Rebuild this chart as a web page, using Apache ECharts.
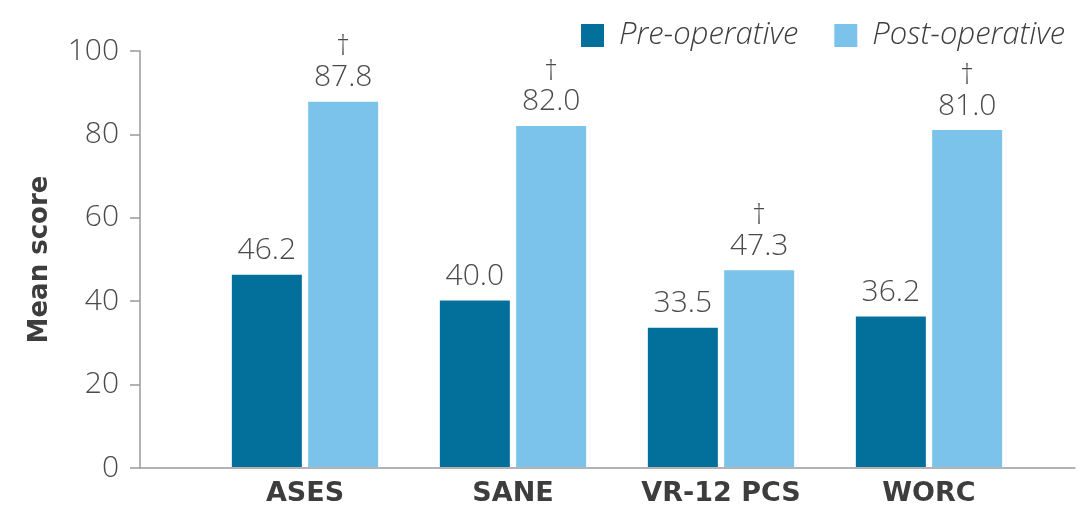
<!DOCTYPE html>
<html>
<head>
<meta charset="utf-8">
<script src="https://cdn.jsdelivr.net/npm/echarts@6/dist/echarts.min.js"></script>
<style>
  html, body { margin: 0; padding: 0; background: #fff; }
  #chart { width: 1084px; height: 507px; }
</style>
</head>
<body>
<div id="chart"></div>
<script>
// Outcome scores before and after surgery
const categories = ['ASES', 'SANE', 'VR-12 PCS', 'WORC'];
const preOperative = [46.2, 40.0, 33.5, 36.2];
const postOperative = [87.8, 82.0, 47.3, 81.0];
const postSignificant = [true, true, true, true];
const yTicks = [0, 20, 40, 60, 80, 100];

const FONT = '"Open Sans", "Noto Sans", sans-serif';
const BOLD_FONT = '"DejaVu Sans", "Open Sans", sans-serif';
const TEXT = '#3d3d3d';
const LIGHT_TEXT = '#4a4a4a';
const AXIS = '#9a9a9a';

const gridTop = 51;
const gridBottom = 39;

const chart = echarts.init(document.getElementById('chart'), null, { renderer: 'canvas' });

chart.setOption({
  animation: false,
  backgroundColor: '#ffffff',
  textStyle: { fontFamily: FONT },
  legend: {
    right: 14,
    top: 15,
    itemWidth: 23,
    itemHeight: 23,
    itemGap: 36,
    icon: 'rect',
    textStyle: {
      fontFamily: FONT,
      fontSize: 31,
      fontStyle: 'italic',
      fontWeight: 300,
      color: TEXT,
      padding: [0, 0, 0, 10]
    },
    data: ['Pre-operative', 'Post-operative']
  },
  grid: [
    // frame grid carrying the visible axes
    { left: 140, right: 9, top: gridTop, bottom: gridBottom },
    // grid holding the bars
    { left: 201, right: 51, top: gridTop, bottom: gridBottom }
  ],
  xAxis: [
    {
      gridIndex: 0,
      type: 'category',
      data: [''],
      axisLine: { show: true, lineStyle: { color: AXIS, width: 1.5 } },
      axisTick: { show: false },
      axisLabel: { show: false }
    },
    {
      gridIndex: 1,
      type: 'category',
      data: categories,
      axisLine: { show: false },
      axisTick: { show: false },
      axisLabel: {
        margin: 13,
        fontFamily: BOLD_FONT,
        fontSize: 27,
        fontWeight: 'bold',
        color: TEXT
      }
    }
  ],
  yAxis: [
    {
      gridIndex: 0,
      type: 'value',
      min: yTicks[0],
      max: yTicks[yTicks.length - 1],
      interval: yTicks[1] - yTicks[0],
      name: 'Mean score',
      nameLocation: 'middle',
      nameGap: 87,
      nameRotate: 90,
      nameTextStyle: {
        fontFamily: BOLD_FONT,
        fontSize: 26,
        fontWeight: 'bold',
        color: TEXT
      },
      axisLine: { show: true, lineStyle: { color: AXIS, width: 1.5 } },
      axisTick: { show: true, length: 10, lineStyle: { color: AXIS, width: 1.5 } },
      splitLine: { show: false },
      axisLabel: {
        margin: 21,
        fontFamily: FONT,
        fontSize: 30,
        fontWeight: 300,
        color: LIGHT_TEXT
      }
    },
    {
      gridIndex: 1,
      type: 'value',
      min: yTicks[0],
      max: yTicks[yTicks.length - 1],
      show: false,
      splitLine: { show: false }
    }
  ],
  series: [
    {
      name: 'Pre-operative',
      type: 'bar',
      xAxisIndex: 1,
      yAxisIndex: 1,
      data: preOperative,
      barWidth: 70,
      barGap: '9%',
      itemStyle: { color: '#03709b' },
      label: {
        show: true,
        position: 'top',
        distance: 8,
        fontFamily: FONT,
        fontSize: 30,
        fontWeight: 300,
        lineHeight: 32,
        color: LIGHT_TEXT,
        formatter: p => p.value.toFixed(1)
      }
    },
    {
      name: 'Post-operative',
      type: 'bar',
      xAxisIndex: 1,
      yAxisIndex: 1,
      data: postOperative,
      barWidth: 70,
      barGap: '9%',
      itemStyle: { color: '#7bc3eb' },
      label: {
        show: true,
        position: 'top',
        distance: 8,
        color: LIGHT_TEXT,
        formatter: p => (postSignificant[p.dataIndex] ? '{d|†}\n' : '') + '{v|' + p.value.toFixed(1) + '}',
        rich: {
          d: { fontFamily: FONT, fontSize: 27, fontWeight: 300, lineHeight: 28, color: LIGHT_TEXT, align: 'center' },
          v: { fontFamily: FONT, fontSize: 30, fontWeight: 300, lineHeight: 32, color: LIGHT_TEXT, align: 'center' }
        }
      }
    }
  ]
});
</script>
</body>
</html>
